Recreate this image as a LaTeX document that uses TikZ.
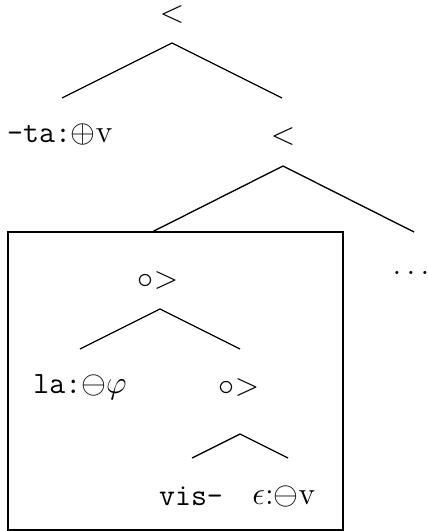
\documentclass[tikz,border=0pt]{standalone}
\begin{document}
\begin{tikzpicture}[x=0.375pt,y=-0.375pt,
  lbl/.style={inner sep=0pt,font=\fontsize{11.6}{14}\selectfont},
  edge/.style={line width=0.5pt}]
\useasboundingbox (0,0) rectangle (427,531);
% top level
\node[lbl] (r) at (172,15) {$<$};
\coordinate (ra) at (172,43);
\coordinate (rl) at (62,98);
\coordinate (rr) at (282,98);
\draw[edge] (rl) -- (ra) -- (rr);
\node[lbl] (ta) at (60,134) {\texttt{-ta:}$\oplus\mathrm{v}$};
\node[lbl] (r2) at (283,136) {$<$};
\coordinate (r2a) at (283,166);
\coordinate (r2l) at (152,232);
\coordinate (r2r) at (414,232);
\draw[edge] (r2l) -- (r2a) -- (r2r);
\node[lbl] (dots) at (411,273) {$\ldots$};
% boxed subtree
\coordinate (boxnw) at (8,232);
\coordinate (boxse) at (343,530);
\draw[edge] (boxnw) rectangle (boxse);
\node[lbl] (c1) at (158,280) {${\circ}{>}$};
\coordinate (c1a) at (160,309);
\coordinate (c1l) at (80,349);
\coordinate (c1r) at (240,349);
\draw[edge] (c1l) -- (c1a) -- (c1r);
\node[lbl] (la) at (80,387) {\texttt{la:}$\ominus\varphi$};
\node[lbl] (c2) at (239,387) {${\circ}{>}$};
\coordinate (c2a) at (240,434);
\coordinate (c2l) at (192,458);
\coordinate (c2r) at (288,458);
\draw[edge] (c2l) -- (c2a) -- (c2r);
\node[lbl] (vis) at (191,496) {\texttt{vis-}};
\node[lbl] (eps) at (284,496) {$\epsilon{:}{\ominus}\mathrm{v}$};
\end{tikzpicture}
\end{document}
